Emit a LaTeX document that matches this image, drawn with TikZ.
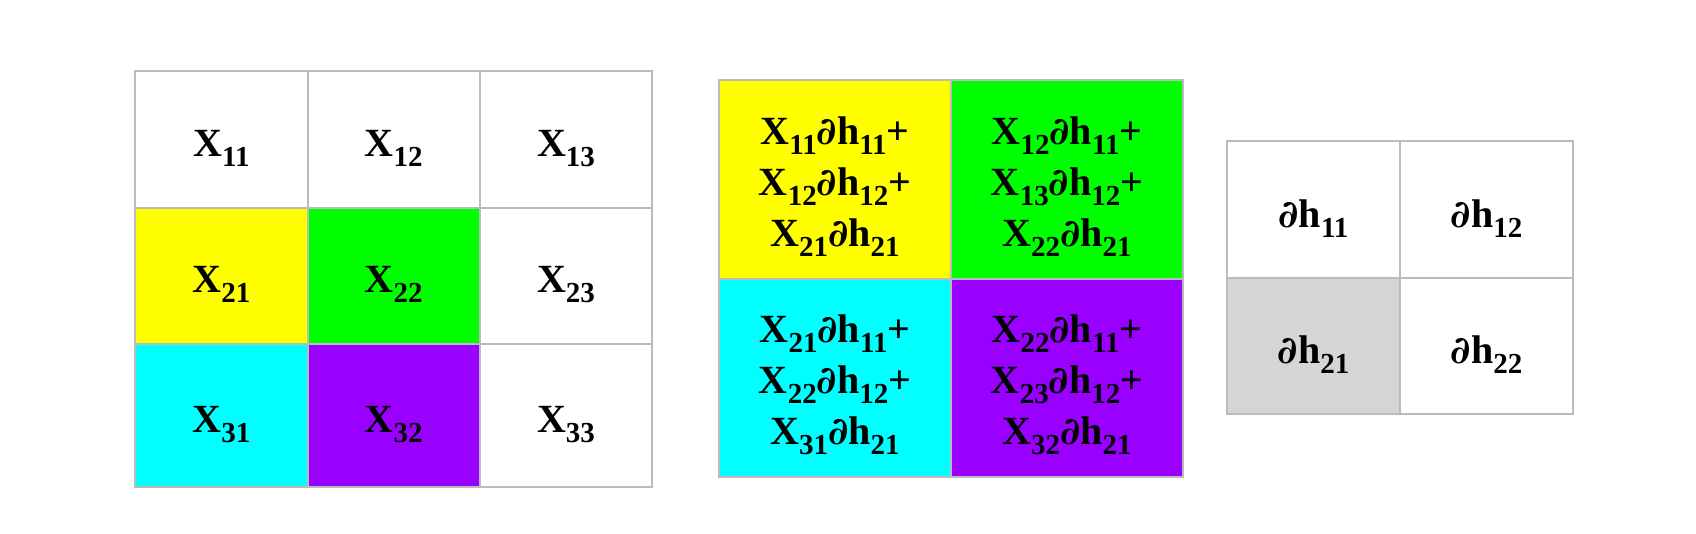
\documentclass[tikz,border=0pt]{standalone}
\usepackage{fontspec}
\setmainfont{Liberation Serif}
\newfontfamily\partfont{DejaVu Serif}
\usepackage{xcolor}
\usetikzlibrary{positioning}
\definecolor{gridline}{HTML}{BBBBBB}
\definecolor{cyellow}{HTML}{FFFF00}
\definecolor{cgreen}{HTML}{00FF00}
\definecolor{ccyan}{HTML}{00FFFF}
\definecolor{cpurple}{HTML}{9900FF}
\definecolor{cgrey}{HTML}{D5D5D5}
\newcommand{\sbs}[1]{\raisebox{-10pt}{\fontsize{29}{29}\selectfont #1}}
\newcommand{\xv}[1]{X\sbs{#1}}
\newcommand{\dv}[1]{{\partfont\itshape\fontsize{38}{38}\selectfont ∂}h\sbs{#1}}
\newcommand{\topstrut}{\rule{0pt}{42pt}}

\begin{document}
\begin{tikzpicture}[
  x=1pt, y=-1pt,
  cell/.style={draw=gridline, line width=2pt, fill=white, inner sep=0pt, align=center,
    font=\fontsize{40}{51}\selectfont\bfseries},
  xcell/.style={cell, minimum width=172.3pt, minimum height=137pt, text height=33pt, text depth=0pt},
  mcell/.style={cell, minimum width=232pt, minimum height=199pt},
  gcell/.style={cell, minimum width=173pt, minimum height=137pt, text height=35pt, text depth=0pt}
]
  \useasboundingbox[fill=white] (0,0) rectangle (1696,533);

  % Input X
  \node[xcell] (x11) at (221.4,139.5) {\xv{11}};
  \node[xcell] (x12) at (393.7,139.5) {\xv{12}};
  \node[xcell] (x13) at (566,139.5) {\xv{13}};
  \node[xcell, fill=cyellow] (x21) at (221.4,276) {\xv{21}};
  \node[xcell, fill=cgreen] (x22) at (393.7,276) {\xv{22}};
  \node[xcell] (x23) at (566,276) {\xv{23}};
  \node[xcell, fill=ccyan, minimum height=143pt] (x31) at (221.4,415.5) {\xv{31}};
  \node[xcell, fill=cpurple, minimum height=143pt] (x32) at (393.7,415.5) {\xv{32}};
  \node[xcell, minimum height=143pt] (x33) at (566,415.5) {\xv{33}};

  % Gradient sums
  \node[mcell, fill=cyellow] (s11) at (835,179.5) {\topstrut\xv{11}\dv{11}+\\\xv{12}\dv{12}+\\\xv{21}\dv{21}};
  \node[mcell, fill=cgreen] (s12) at (1067,179.5) {\topstrut\xv{12}\dv{11}+\\\xv{13}\dv{12}+\\\xv{22}\dv{21}};
  \node[mcell, fill=ccyan, minimum height=198pt] (s21) at (835,378) {\topstrut\xv{21}\dv{11}+\\\xv{22}\dv{12}+\\\xv{31}\dv{21}};
  \node[mcell, fill=cpurple, minimum height=198pt] (s22) at (1067,378) {\topstrut\xv{22}\dv{11}+\\\xv{23}\dv{12}+\\\xv{32}\dv{21}};

  % Output gradient
  \node[gcell] (h11) at (1313.5,209.5) {\dv{11}};
  \node[gcell] (h12) at (1486.5,209.5) {\dv{12}};
  \node[gcell, fill=cgrey, minimum height=136pt] (h21) at (1313.5,346) {\dv{21}};
  \node[gcell, minimum height=136pt] (h22) at (1486.5,346) {\dv{22}};
\end{tikzpicture}
\end{document}
